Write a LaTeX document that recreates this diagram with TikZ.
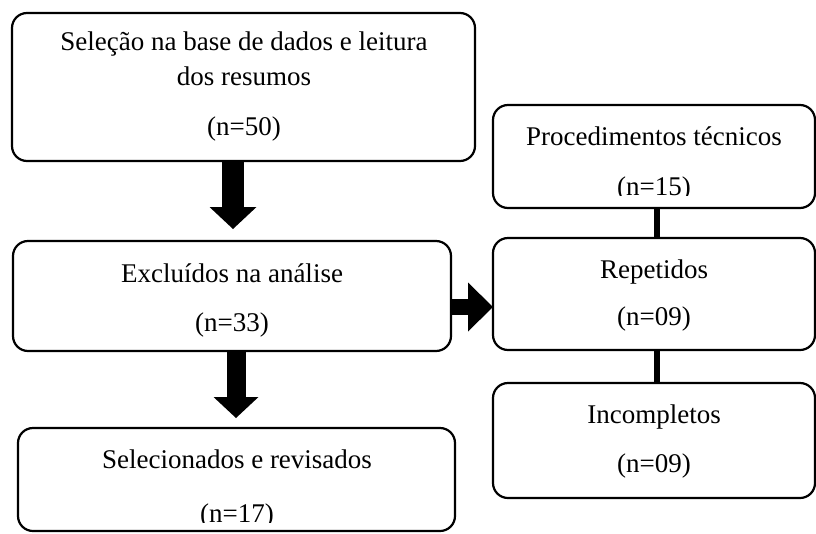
\documentclass[tikz,border=0pt]{standalone}
\usepackage{fontspec}
\setmainfont{Liberation Serif}
\usetikzlibrary{arrows.meta,calc}
\begin{document}
\begin{tikzpicture}[x=1pt,y=-1pt,
  box/.style={draw=black,line width=2.2pt,rounded corners=15pt,inner sep=0pt,outer sep=0pt,fill=white},
  txt/.style={inner sep=0pt,outer sep=0pt,anchor=base,font=\fontsize{27}{32}\selectfont},
  link/.style={line width=6pt},
  blockarrow/.style={draw=black}
]
\useasboundingbox[fill=white] (0,0) rectangle (816,533);

% boxes
\node[box,minimum width=463pt,minimum height=148pt] (b1) at (243.5,87) {};
\node[box,minimum width=438pt,minimum height=110pt] (b2) at (232,296) {};
\node[box,minimum width=437pt,minimum height=103pt] (b3) at (236.5,479.5) {};
\node[box,minimum width=322pt,minimum height=103pt] (b4) at (654,156.5) {};
\node[box,minimum width=322pt,minimum height=112pt] (b5) at (654,294) {};
\node[box,minimum width=322pt,minimum height=115pt] (b6) at (654,440.5) {};

% texts
\node[txt] (t1a) at (244,50) {Seleção na base de dados e leitura};
\node[txt] (t1b) at (244,85) {dos resumos};
\node[txt] (t1c) at (244,135) {(n=50)};

\node[txt] (t2a) at (232,282) {Excluídos na análise};
\node[txt] (t2b) at (232,331) {(n=33)};

\node[txt] (t3a) at (237,468) {Selecionados e revisados};
\begin{scope}
  \clip (18,430) rectangle (455,522.5);
  \node[txt] (t3b) at (237,522) {(n=17)};
\end{scope}

\node[txt] (t4a) at (654,145) {Procedimentos técnicos};
\begin{scope}
  \clip (493,110) rectangle (815,195.5);
  \node[txt] (t4b) at (654,195) {(n=15)};
\end{scope}

\node[txt] (t5a) at (654,278) {Repetidos};
\node[txt] (t5b) at (654,325) {(n=09)};

\node[txt] (t6a) at (654,423) {Incompletos};
\node[txt] (t6b) at (654,472) {(n=09)};

% connectors between right boxes
\coordinate (cx) at (657,0);
\draw[link] (b4.south -| cx) -- (b5.north -| cx);
\draw[link] (b5.south -| cx) -- (b6.north -| cx);

% block arrows
\coordinate (a1) at (233,0);
\draw[blockarrow,line width=22pt,-{Triangle[width=47pt,length=22pt,line width=0pt]}]
  (b1.south -| a1) -- ([yshift=12pt]b2.north -| a1);
\coordinate (a2) at (236,0);
\draw[blockarrow,line width=19pt,-{Triangle[width=45pt,length=21pt,line width=0pt]}]
  (b2.south -| a2) -- ([yshift=10pt]b3.north -| a2);
\coordinate (a3) at (0,307);
\draw[blockarrow,line width=16pt,-{Triangle[width=49pt,length=25pt,line width=0pt]}]
  (b2.east |- a3) -- (b5.west |- a3);
\end{tikzpicture}
\end{document}
